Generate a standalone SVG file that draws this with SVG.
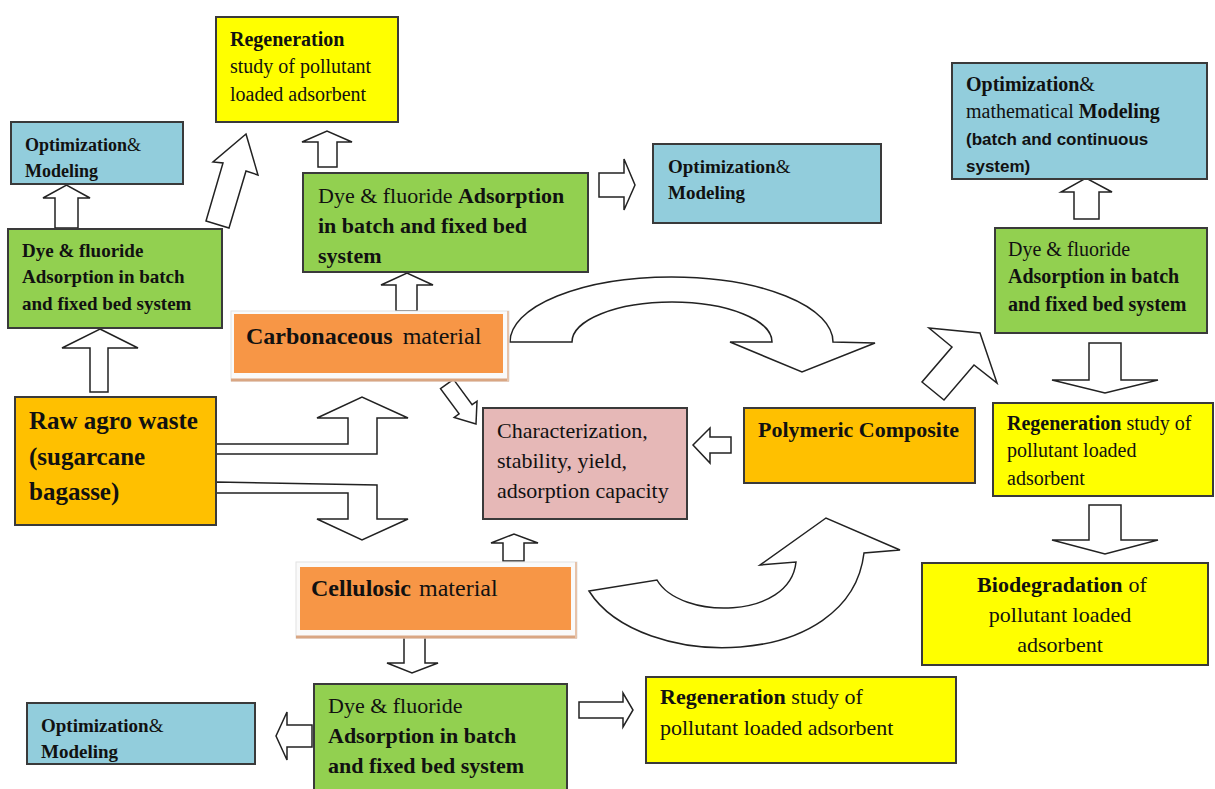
<svg xmlns="http://www.w3.org/2000/svg" width="1215" height="789" viewBox="0 0 1215 789">
<style>
.box{stroke:#3a3a3a;stroke-width:2}
.y{fill:#FFFF00}.b{fill:#92CDDC}.g{fill:#92D050}.o{fill:#F79646}.au{fill:#FFC000}.p{fill:#E6B8B7}
.arr{fill:#fff;stroke:#222;stroke-width:1.5;stroke-linejoin:miter}
text{font-family:"Liberation Serif","Times New Roman",serif;fill:#111}
.bd{font-weight:bold}
.nb{font-weight:normal}
.sans{font-family:"Liberation Sans",Arial,sans-serif;font-weight:bold}
</style>
<rect width="1215" height="789" fill="#fff"/>

<g id="connectors">
  <polygon class="arr" points="55,228 55,198 43,198 66.5,185 90,198 78,198 78,228"/>
  <polygon class="arr" points="246,134 258,175 246,171 229,228 206,221 223,163 213,162"/>
  <polygon class="arr" points="318,167 318,142 302,142 327,131 352,142 337,142 337,167"/>
  <polygon class="arr" points="396,311 396,285 381,285 407,273 433,285 417,285 417,311"/>
  <polygon class="arr" points="599,173 624,173 624,159 635,185 624,210 624,197 599,197"/>
  <polygon class="arr" points="1074,219 1074,192 1061,192 1086,178 1112,192 1099,192 1099,219"/>
  <polygon class="arr" points="1089,343 1121,343 1121,380 1158,380 1105,393 1052,380 1089,380"/>
  <polygon class="arr" points="1089,505 1121,505 1121,540 1158,540 1105,554 1052,540 1089,540"/>
  <polygon class="arr" points="929,328 980,333 997,383 974,365 944,400 922,382 952,347"/>
  <polygon class="arr" points="453.5,379.4 472.1,404.7 477,401.2 476,424 454.2,417.4 459.1,413.9 440.5,388.6"/>
  <polygon class="arr" points="731,437 710,437 710,428 693,445 710,463 710,453 731,453"/>
  <polygon class="arr" points="503,561 503,543 491,543 514,534 538,543 524,543 524,561"/>
  <polygon class="arr" points="404,637 425,637 425,663 438,663 412,673 387,663 404,663"/>
  <polygon class="arr" points="579,702 623,702 623,693 633,710 623,727 623,718 579,718"/>
  <polygon class="arr" points="312,725 287,725 287,712 276,736 287,760 287,747 312,747"/>
  <polygon class="arr" points="100,329 138,348 108,348 108,392 90,392 90,348 62,348"/>
  <polygon class="arr" points="216,444 348,444 348,418 317,418 362,397 408,418 377,418 377,454 216,454"/>
  <polygon class="arr" points="216,482 377,485 377,519 408,519 362,540 317,519 348,519 348,493 216,493"/>
  <path class="arr" d="M510,342 A161.5,65 0 0 1 833,342 L875,343 L802,372 L730,342 L772,342 A100,40 0 0 0 572,342 Z"/>
  <path class="arr" d="M589,591 L657,580 C680,620 790,620 796,562 L760,565 L826,518 L900,550 L864,553 C850,672 640,672 589,591 Z"/>
</g>

<g id="regen-top">
  <rect class="box y" x="216" y="17" width="182" height="105"/>
  <text font-size="20" x="230" y="46"><tspan class="bd">Regeneration</tspan><tspan x="230" y="73">study of pollutant</tspan><tspan x="230" y="101">loaded adsorbent</tspan></text>
</g>
<g id="opt-topleft">
  <rect class="box b" x="11" y="122" width="172" height="62"/>
  <text class="bd" font-size="18" x="25" y="151">Optimization<tspan class="nb">&amp;</tspan><tspan x="25" y="177">Modeling</tspan></text>
</g>
<g id="ads-left">
  <rect class="box g" x="8" y="229" width="214" height="99"/>
  <text class="bd" font-size="19" x="22" y="257">Dye &amp; fluoride<tspan x="22" y="283">Adsorption in batch</tspan><tspan x="22" y="310">and fixed bed system</tspan></text>
</g>
<g id="ads-center">
  <rect class="box g" x="303" y="173" width="285" height="99"/>
  <text font-size="22" x="318" y="203">Dye &amp; fluoride <tspan class="bd">Adsorption</tspan><tspan class="bd" x="318" y="233">in batch and fixed bed</tspan><tspan class="bd" x="318" y="263">system</tspan></text>
</g>
<g id="opt-center">
  <rect class="box b" x="653" y="144" width="228" height="79"/>
  <text class="bd" font-size="19" x="668" y="173">Optimization<tspan class="nb">&amp;</tspan><tspan x="668" y="199">Modeling</tspan></text>
</g>
<g id="opt-right">
  <rect class="box b" x="952" y="63" width="255" height="116"/>
  <text font-size="20" x="966" y="91"><tspan class="bd">Optimization</tspan>&amp;<tspan x="966" y="118">mathematical </tspan><tspan class="bd">Modeling</tspan></text>
  <text class="sans" font-size="17" x="966" y="145">(batch and continuous<tspan x="966" y="172">system)</tspan></text>
</g>
<g id="ads-right">
  <rect class="box g" x="995" y="228" width="212" height="105"/>
  <text font-size="20" x="1008" y="256">Dye &amp; fluoride<tspan class="bd" x="1008" y="283">Adsorption in batch</tspan><tspan class="bd" x="1008" y="311">and fixed bed system</tspan></text>
</g>
<g id="carbonaceous">
  <rect x="231" y="311" width="278" height="70" fill="#fafafa" stroke="#e2e2e2" stroke-width="1"/>
  <line x1="231" y1="380" x2="509" y2="380" stroke="#D9A683" stroke-width="3"/>
  <line x1="508" y1="311" x2="508" y2="381" stroke="#E6C3AA" stroke-width="2"/>
  <rect class="o" x="234" y="314" width="269" height="59"/>
  <text font-size="24" x="246" y="344"><tspan class="bd">Carbonaceous</tspan><tspan dx="10">material</tspan></text>
</g>
<g id="raw-agro">
  <rect class="box au" x="15" y="397" width="201" height="128"/>
  <text class="bd" font-size="25" x="29" y="429">Raw agro waste<tspan x="29" y="465">(sugarcane</tspan><tspan x="29" y="500">bagasse)</tspan></text>
</g>
<g id="characterization">
  <rect class="box p" x="483" y="408" width="204" height="111"/>
  <text font-size="22" x="497" y="438">Characterization,<tspan x="497" y="468">stability, yield,</tspan><tspan x="497" y="498">adsorption capacity</tspan></text>
</g>
<g id="polymeric">
  <rect class="box au" x="744" y="408" width="231" height="75"/>
  <text class="bd" font-size="22" x="758" y="437">Polymeric Composite</text>
</g>
<g id="regen-right">
  <rect class="box y" x="993" y="403" width="220" height="93"/>
  <text font-size="20" x="1007" y="430"><tspan class="bd">Regeneration</tspan> study of<tspan x="1007" y="457">pollutant loaded</tspan><tspan x="1007" y="485">adsorbent</tspan></text>
</g>
<g id="biodegradation">
  <rect class="box y" x="922" y="563" width="286" height="102"/>
  <text font-size="22" text-anchor="middle" x="1062" y="592"><tspan class="bd">Biodegradation</tspan><tspan dx="6">of</tspan><tspan x="1060" y="622">pollutant loaded</tspan><tspan x="1060" y="652">adsorbent</tspan></text>
</g>
<g id="cellulosic">
  <rect x="296" y="562" width="281" height="76" fill="#fafafa" stroke="#e2e2e2" stroke-width="1"/>
  <line x1="296" y1="637" x2="577" y2="637" stroke="#D9A683" stroke-width="3"/>
  <line x1="576" y1="562" x2="576" y2="638" stroke="#E6C3AA" stroke-width="2"/>
  <rect class="o" x="300" y="567" width="271" height="63"/>
  <text font-size="24" x="311" y="596"><tspan class="bd">Cellulosic</tspan><tspan dx="8">material</tspan></text>
</g>
<g id="opt-bottomleft">
  <rect class="box b" x="27" y="703" width="228" height="61"/>
  <text class="bd" font-size="19" x="41" y="732">Optimization<tspan class="nb">&amp;</tspan><tspan x="41" y="758">Modeling</tspan></text>
</g>
<g id="ads-bottom">
  <rect class="box g" x="314" y="684" width="253" height="110"/>
  <text font-size="22" x="328" y="713">Dye &amp; fluoride<tspan class="bd" x="328" y="743">Adsorption in batch</tspan><tspan class="bd" x="328" y="773">and fixed bed system</tspan></text>
</g>
<g id="regen-bottom">
  <rect class="box y" x="646" y="677" width="310" height="86"/>
  <text font-size="22" x="660" y="704"><tspan class="bd">Regeneration</tspan> study of<tspan x="660" y="735">pollutant loaded adsorbent</tspan></text>
</g>
</svg>
